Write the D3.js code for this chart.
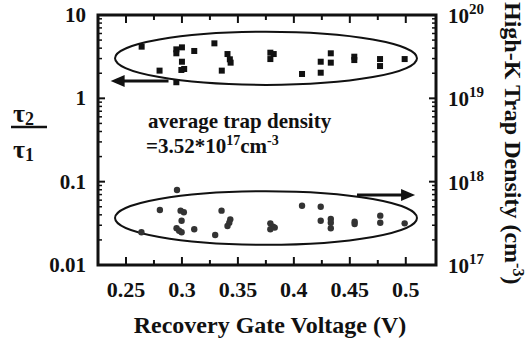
<!DOCTYPE html>
<html>
<head>
<meta charset="utf-8">
<script src="https://cdn.jsdelivr.net/npm/d3@7/dist/d3.min.js"></script>
<style>
    body { margin: 0; background: #fff; }
    svg text { font-family: "Liberation Serif", "Times New Roman", serif; font-weight: bold; fill: #111; }
</style>
</head>
<body>
<div id="chart"></div>
<script>
// tau2/tau1 ratio (left axis, squares)
var ratio_v = [0.264, 0.280, 0.295, 0.295, 0.300, 0.311, 0.329, 0.300, 0.2995, 0.302, 0.295,
               0.3407, 0.3428, 0.3435, 0.3356, 0.379, 0.382, 0.379, 0.4073, 0.424, 0.424,
               0.433, 0.433, 0.454, 0.454, 0.477, 0.477, 0.499];
var ratio = [4.17, 2.15, 3.87, 3.47, 4.09, 3.70, 4.57, 2.75, 2.19, 2.25, 1.56,
             3.40, 2.94, 2.68, 2.15, 3.53, 3.40, 2.96, 1.96, 2.75, 2.03,
             3.47, 2.68, 3.16, 2.88, 2.96, 2.44, 2.96];

// high-k trap density (right axis, circles), cm^-3
var trap_v = [0.2956, 0.2803, 0.2988, 0.3017, 0.2997, 0.2952, 0.2975, 0.2997, 0.311, 0.2638,
              0.3297, 0.3354, 0.3432, 0.3423, 0.3407, 0.4073, 0.424, 0.424, 0.433, 0.433,
              0.433, 0.379, 0.3814, 0.379, 0.3829, 0.4543, 0.4543, 0.4772, 0.4772, 0.499];
var trap = [7.94e17, 4.57e17, 4.49e17, 4.29e17, 3.40e17, 2.76e17, 2.58e17, 2.47e17, 2.68e17, 2.47e17,
            2.29e17, 4.49e17, 3.53e17, 3.22e17, 2.94e17, 5.15e17, 5.01e17, 3.40e17, 3.56e17, 3.22e17,
            2.76e17, 3.16e17, 2.88e17, 2.68e17, 2.81e17, 3.31e17, 3.10e17, 3.91e17, 3.22e17, 3.16e17];

var x_ticks = [0.25, 0.3, 0.35, 0.4, 0.45, 0.5];
var x_minor = [0.25, 0.275, 0.3, 0.325, 0.35, 0.375, 0.4, 0.425, 0.45, 0.475, 0.5];
var left_ticks = [10, 1, 0.1, 0.01];
var left_labels = ["10", "1", "0.1", "0.01"];
var right_ticks = [1e20, 1e19, 1e18, 1e17];
var right_exp = ["20", "19", "18", "17"];

var margins = {top: 15, right: 96, bottom: 80, left: 98},
    W = 532, H = 345;

var svg = d3.select("#chart").append("svg")
    .attr("width", W)
    .attr("height", H);

var x = d3.scaleLinear().domain([0.225, 0.527]).range([margins.left, W - margins.right]);
var yL = d3.scaleLog().domain([0.01, 10]).range([H - margins.bottom, margins.top]);
var yR = d3.scaleLog().domain([1e17, 1e20]).range([H - margins.bottom, margins.top]);

var x0 = margins.left, x1 = W - margins.right,
    y0 = margins.top, y1 = H - margins.bottom;

/* minor log ticks for both vertical axes */
var minorL = [], minorR = [];
[0.01, 0.1, 1].forEach(function(d) {
    for (var k = 2; k <= 9; k++) minorL.push(d * k);
});
[1e17, 1e18, 1e19].forEach(function(d) {
    for (var k = 2; k <= 9; k++) minorR.push(d * k);
});

var ticks = svg.append("g").attr("stroke", "#111");

ticks.selectAll("line.lminor").data(minorL).enter().append("line")
    .attr("x1", x0).attr("x2", x0 + 4)
    .attr("y1", function(d) { return yL(d); }).attr("y2", function(d) { return yL(d); })
    .attr("stroke-width", 1.5);
ticks.selectAll("line.lmajor").data(left_ticks).enter().append("line")
    .attr("x1", x0).attr("x2", x0 + 7)
    .attr("y1", function(d) { return yL(d); }).attr("y2", function(d) { return yL(d); })
    .attr("stroke-width", 2);

ticks.selectAll("line.rminor").data(minorR).enter().append("line")
    .attr("x1", x1).attr("x2", x1 - 4)
    .attr("y1", function(d) { return yR(d); }).attr("y2", function(d) { return yR(d); })
    .attr("stroke-width", 1.5);
ticks.selectAll("line.rmajor").data(right_ticks).enter().append("line")
    .attr("x1", x1).attr("x2", x1 - 7)
    .attr("y1", function(d) { return yR(d); }).attr("y2", function(d) { return yR(d); })
    .attr("stroke-width", 2);

x_minor.forEach(function(d, i) {
    var len = (i % 2 === 0) ? 8 : 5;
    ticks.append("line")
        .attr("x1", x(d)).attr("x2", x(d))
        .attr("y1", y0).attr("y2", y0 + len)
        .attr("stroke-width", 2);
    ticks.append("line")
        .attr("x1", x(d)).attr("x2", x(d))
        .attr("y1", y1).attr("y2", y1 - len)
        .attr("stroke-width", 2);
});

// frame
svg.append("rect")
    .attr("x", x0).attr("y", y0)
    .attr("width", x1 - x0).attr("height", y1 - y0)
    .attr("fill", "none")
    .attr("stroke", "#111")
    .attr("stroke-width", 3);

// tick labels
svg.selectAll("text.xt").data(x_ticks).enter().append("text")
    .attr("x", function(d) { return x(d); })
    .attr("y", 297)
    .attr("text-anchor", "middle")
    .style("font-size", "22px")
    .text(function(d) { return d; });

svg.selectAll("text.yl").data(left_ticks).enter().append("text")
    .attr("x", x0 - 12)
    .attr("y", function(d) { return yL(d) + 7; })
    .attr("text-anchor", "end")
    .style("font-size", "21px")
    .text(function(d, i) { return left_labels[i]; });

var rlab = svg.selectAll("text.yr").data(right_ticks).enter().append("text")
    .attr("x", 448)
    .attr("y", function(d) { return yR(d) + 8; })
    .style("font-size", "21px");
rlab.append("tspan").text("10");
rlab.append("tspan")
    .attr("dy", -9)
    .style("font-size", "15px")
    .text(function(d, i) { return right_exp[i]; });

// ellipses round the two groups
var ellipses = [
    {scale: yL, xl: 0.2402, xr: 0.510, yt: 6.3, yb: 1.45},
    {scale: yR, xl: 0.2402, xr: 0.510, yt: 7.7e17, yb: 1.75e17}
];
svg.selectAll("ellipse").data(ellipses).enter().append("ellipse")
    .attr("cx", function(d) { return (x(d.xl) + x(d.xr)) / 2; })
    .attr("cy", function(d) { return (d.scale(d.yt) + d.scale(d.yb)) / 2; })
    .attr("rx", function(d) { return (x(d.xr) - x(d.xl)) / 2; })
    .attr("ry", function(d) { return (d.scale(d.yb) - d.scale(d.yt)) / 2; })
    .attr("fill", "none")
    .attr("stroke", "#111")
    .attr("stroke-width", 2);

// squares
svg.selectAll("rect.sq").data(ratio).enter().append("rect")
    .attr("class", "sq")
    .attr("x", function(d, i) { return x(ratio_v[i]) - 3; })
    .attr("y", function(d) { return yL(d) - 3; })
    .attr("width", 6).attr("height", 6)
    .attr("fill", "#111");

// circles
svg.selectAll("circle.tr").data(trap).enter().append("circle")
    .attr("class", "tr")
    .attr("cx", function(d, i) { return x(trap_v[i]); })
    .attr("cy", function(d) { return yR(d); })
    .attr("r", 3.2)
    .attr("fill", "#333");

// arrows pointing to the axis each group belongs to
var arrows = [
    {from: [0.288, 1.61], to: [0.2363, 1.61], scale: yL},
    {from: [0.4564, 6.9e17], to: [0.5083, 6.9e17], scale: yR}
];
arrows.forEach(function(a) {
    var fx = x(a.from[0]), tx = x(a.to[0]), yy = a.scale(a.from[1]);
    var dir = tx > fx ? 1 : -1;
    svg.append("line")
        .attr("x1", fx).attr("x2", tx - dir * 10)
        .attr("y1", yy).attr("y2", yy)
        .attr("stroke", "#111")
        .attr("stroke-width", 3);
    svg.append("path")
        .attr("d", "M" + tx + "," + yy + "L" + (tx - dir * 14) + "," + (yy - 6) +
            "L" + (tx - dir * 14) + "," + (yy + 6) + "Z")
        .attr("fill", "#111");
});

// note
svg.append("text")
    .attr("x", 148).attr("y", 128)
    .style("font-size", "21px")
    .text("average trap density");
var note = svg.append("text")
    .attr("x", 146).attr("y", 153)
    .style("font-size", "21px");
note.append("tspan").text("=3.52*10");
note.append("tspan").attr("dy", -8).style("font-size", "14px").text("17");
note.append("tspan").attr("dy", 8).text("cm");
note.append("tspan").attr("dy", -8).style("font-size", "14px").text("-3");

// axis titles
svg.append("text")
    .attr("x", 270).attr("y", 333)
    .attr("text-anchor", "middle")
    .style("font-size", "24px")
    .text("Recovery Gate Voltage (V)");

var rt = svg.append("text")
    .attr("transform", "translate(505,2) rotate(90)")
    .style("font-size", "24px");
rt.append("tspan").text("High-K Trap Density (cm");
rt.append("tspan").attr("dy", -8).style("font-size", "16px").text("-3");
rt.append("tspan").attr("dy", 8).text(")");

// tau2 / tau1
var frac = svg.append("g");
var t2 = frac.append("text").attr("x", 13).attr("y", 122).style("font-size", "26px");
t2.append("tspan").text("τ");
t2.append("tspan").attr("dy", 3).style("font-size", "18px").text("2");
frac.append("line")
    .attr("x1", 11).attr("x2", 47)
    .attr("y1", 127).attr("y2", 127)
    .attr("stroke", "#111").attr("stroke-width", 2.5);
var t1 = frac.append("text").attr("x", 13).attr("y", 158).style("font-size", "26px");
t1.append("tspan").text("τ");
t1.append("tspan").attr("dy", 3).style("font-size", "18px").text("1");
</script>
</body>
</html>
